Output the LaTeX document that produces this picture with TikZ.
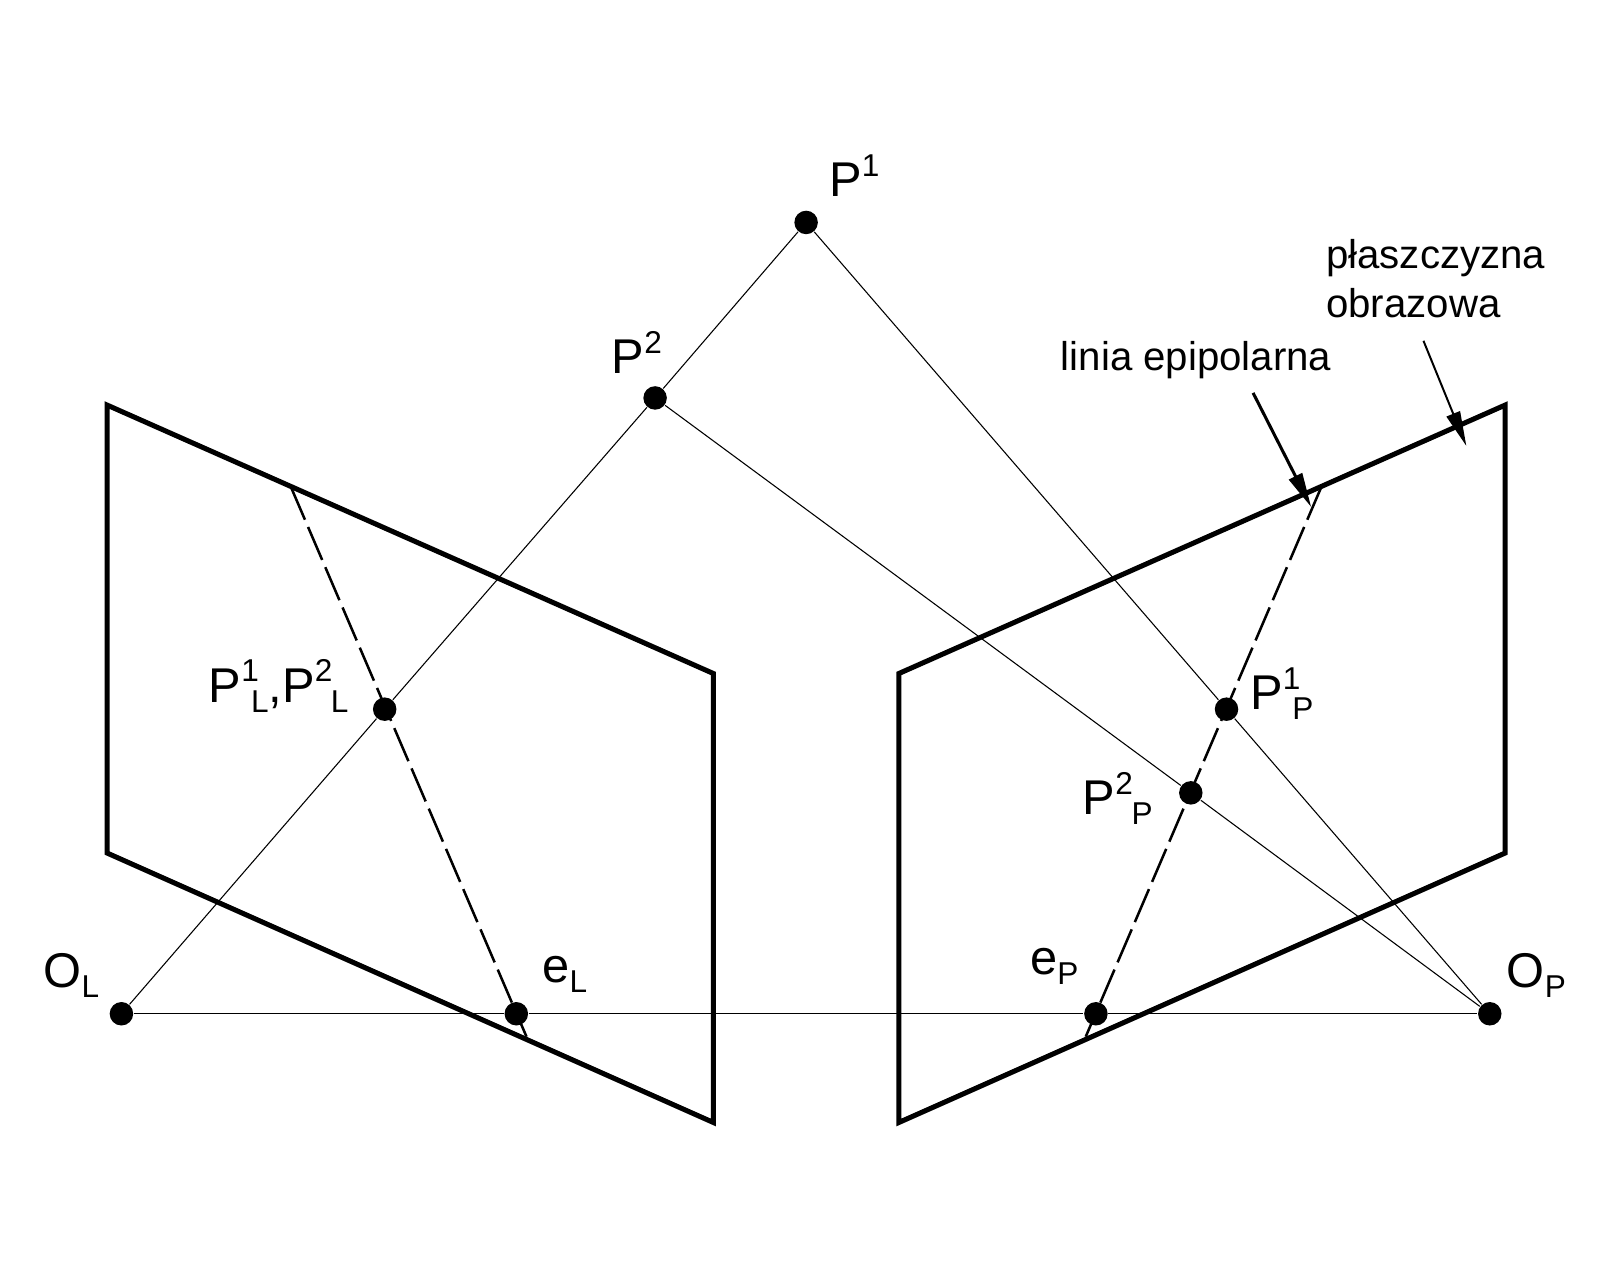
\documentclass[tikz,border=0pt]{standalone}
\usepackage{fontspec}
\setmainfont{Liberation Sans}
\usetikzlibrary{arrows.meta}
\newcommand{\gor}[1]{\raisebox{5.6pt}{\fontsize{8.8}{10}\selectfont #1}}
\newcommand{\dol}[1]{\raisebox{-2.8pt}{\fontsize{8.8}{10}\selectfont #1}}
\tikzset{
  pkt/.style={circle,fill=black,inner sep=0pt,minimum size=0.23cm},
  plaszcz/.style={line width=1.4pt,line join=miter},
  cienka/.style={line width=0.3pt},
  epi/.style={line width=0.7pt,dash pattern=on 10pt off 2.2pt},
  strz/.style={-{Stealth[length=0.34cm,width=0.14cm,inset=0pt]}},
  duzy/.style={inner sep=0pt,anchor=base west,font=\fontsize{13.6}{16}\selectfont},
  maly/.style={inner sep=0pt,align=left,font=\fontsize{11.2}{13.66}\selectfont}
}
\begin{document}
\begin{tikzpicture}[x=0.01cm,y=-0.01cm]
    \useasboundingbox (0,0) rectangle (1568,1254.4);
    \coordinate (la) at (105,397);
    \coordinate (lb) at (699,660);
    \coordinate (lc) at (699,1100);
    \coordinate (ld) at (105,836);
    \coordinate (pa) at (1475,397);
    \coordinate (pb) at (881,660);
    \coordinate (pc) at (881,1100);
    \coordinate (pd) at (1475,836);
    \coordinate (lg) at (285,477);
    \coordinate (ls) at (516,1016);
    \coordinate (pg) at (1295,477);
    \coordinate (ps) at (1064,1016);
    \coordinate (st1) at (1228,385);
    \coordinate (kr1) at (1285,497);
    \coordinate (st2) at (1395,334);
    \coordinate (kr2) at (1437,437);
    \node[pkt] (P1) at (790,218) {};
    \node[pkt] (P2) at (642,390) {};
    \node[pkt] (PL) at (377,695) {};
    \node[pkt] (OL) at (119,993.5) {};
    \node[pkt] (eL) at (506,993.5) {};
    \node[pkt] (eP) at (1074,993.5) {};
    \node[pkt] (OP) at (1460,993.5) {};
    \node[pkt] (P1P) at (1202,695) {};
    \node[pkt] (P2P) at (1167,777) {};
    \draw[plaszcz] (la) -- (lb) -- (lc) -- (ld) -- cycle;
    \draw[plaszcz] (pa) -- (pb) -- (pc) -- (pd) -- cycle;
    \draw[cienka] (OL) -- (PL);
    \draw[cienka] (PL) -- (P2);
    \draw[cienka] (P2) -- (P1);
    \draw[cienka] (P1) -- (P1P);
    \draw[cienka] (P1P) -- (OP);
    \draw[cienka] (P2) -- (P2P);
    \draw[cienka] (P2P) -- (OP);
    \draw[cienka] (OL) -- (eL);
    \draw[cienka] (eL) -- (eP);
    \draw[cienka] (eP) -- (OP);
    \draw[epi] (lg) -- (ls);
    \draw[epi] (pg) -- (ps);
    \draw[strz,line width=0.85pt] (st1) -- (kr1);
    \draw[strz,line width=0.55pt] (st2) -- (kr2);
    \node[duzy] (tP1) at (812,193) {P\gor{1}};
    \node[duzy] (tP2) at (599,366) {P\gor{2}};
    \node[duzy] (tPL) at (204,688) {P\gor{1}\kern-2.2pt\dol{L},P\gor{2}\kern-0.4pt\dol{L}};
    \node[duzy] (tP1P) at (1224.5,695) {P\gor{1}\kern-2.2pt\dol{P}};
    \node[duzy] (tP2P) at (1060.5,798) {P\gor{2}\kern-0.4pt\dol{P}};
    \node[duzy] (tOL) at (42,968) {O\dol{L}};
    \node[duzy] (teL) at (531,963) {e\dol{L}};
    \node[duzy] (teP) at (1009,955) {e\dol{P}};
    \node[duzy] (tOP) at (1476,968) {O\dol{P}};
    \node[maly,anchor=base west] (tlinia) at (1039,363) {linia epipolarna};
    \node[maly,anchor=west] (tplasz) at (1299,273) {płaszczyzna\\obrazowa};
\end{tikzpicture}
\end{document}
